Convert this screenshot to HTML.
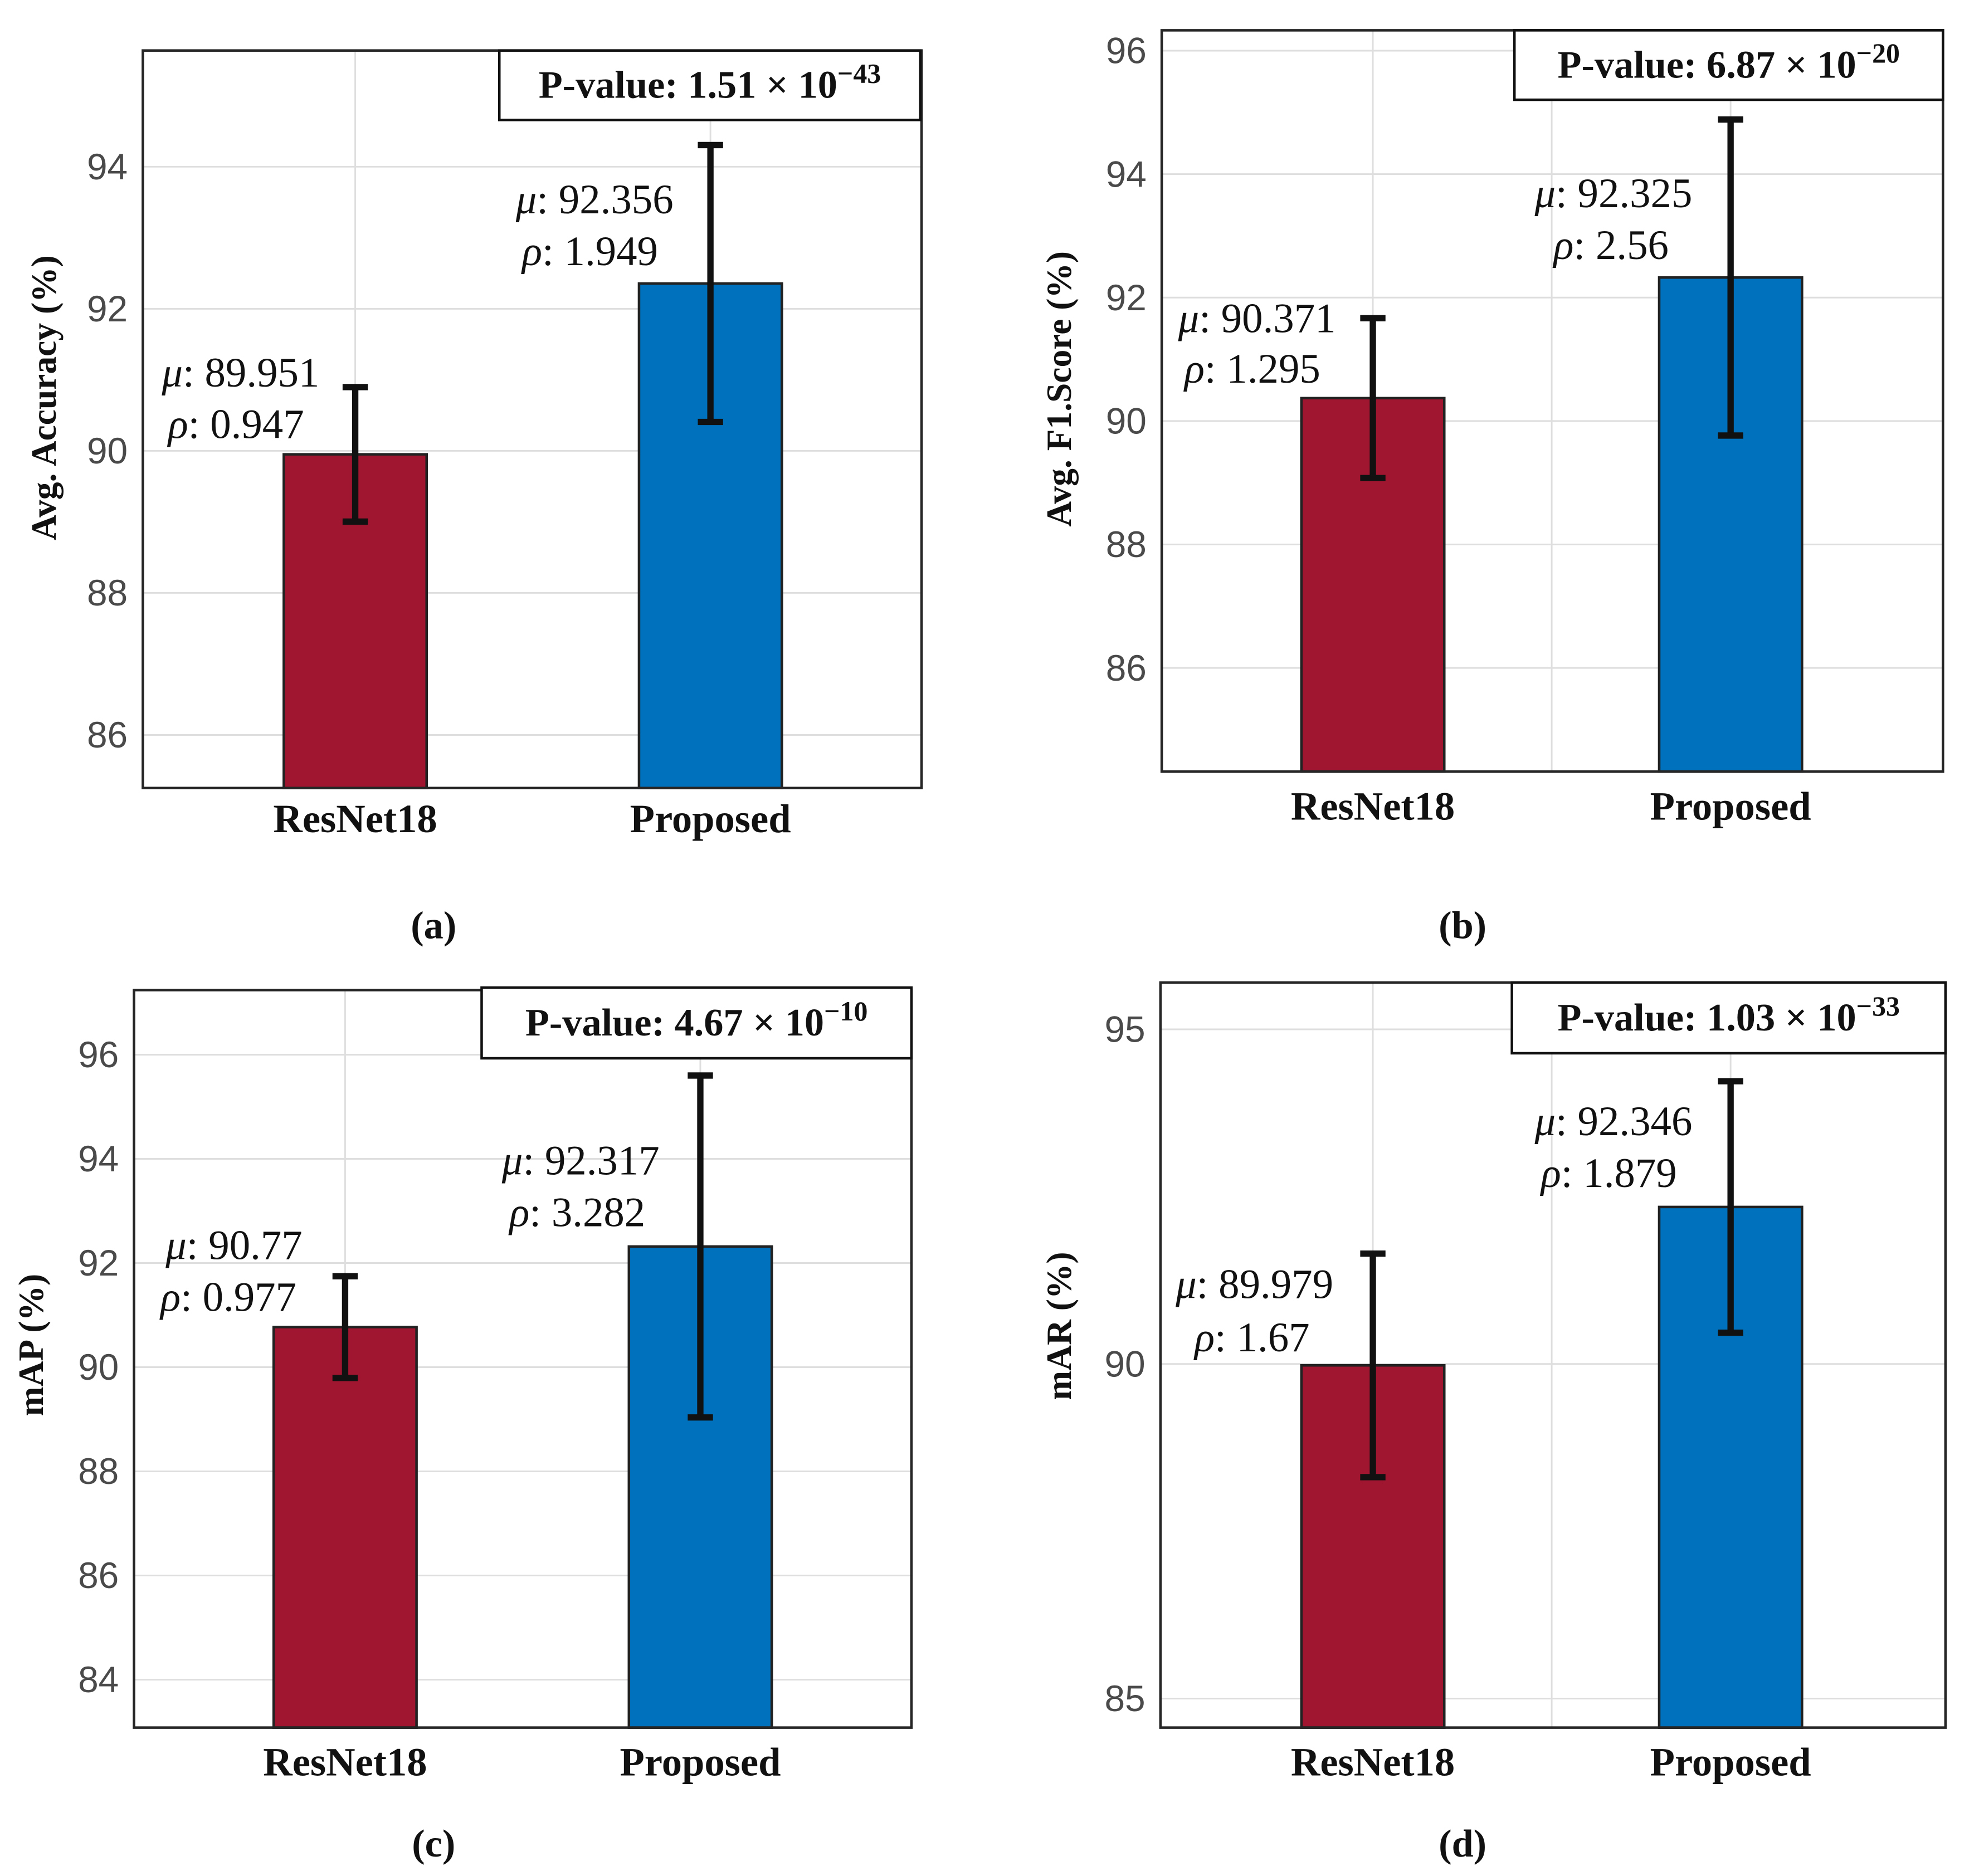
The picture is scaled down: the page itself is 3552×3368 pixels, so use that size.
<!DOCTYPE html>
<html><head><meta charset="utf-8">
<style>
html,body{margin:0;padding:0;background:#fff;}
svg{display:block;}
.tick{font-family:"Liberation Sans",sans-serif;font-size:29px;fill:#4a4a4a;}
.xl{font-family:"Liberation Serif",serif;font-weight:bold;font-size:32px;fill:#111;}
.yl{font-family:"Liberation Serif",serif;font-weight:bold;font-size:28px;fill:#111;}
.ann{font-family:"Liberation Serif",serif;font-size:33px;fill:#111;}
.pv{font-family:"Liberation Serif",serif;font-weight:bold;font-size:31px;fill:#111;}
.cap{font-family:"Liberation Serif",serif;font-weight:bold;font-size:31px;fill:#111;}
</style></head>
<body>
<svg id="fig" width="3552" height="3368" viewBox="0 0 1565.5 1485.5" preserveAspectRatio="none" xmlns="http://www.w3.org/2000/svg"></svg>
<script>
const categories = ["ResNet18","Proposed"];
const meansA = [89.951, 92.356], stdA = [0.947, 1.949];
const meansB = [90.371, 92.325], stdB = [1.295, 2.56];
const meansC = [90.77, 92.317], stdC = [0.977, 3.282];
const meansD = [89.979, 92.346], stdD = [1.67, 1.879];
const ticksA = [86,88,90,92,94];
const ticksB = [86,88,90,92,94,96];
const ticksC = [84,86,88,90,92,94,96];
const ticksD = [85,90,95];
const pvalA = ["1.51","43"], pvalB = ["6.87","20"], pvalC = ["4.67","10"], pvalD = ["1.03","33"];
const ylabels = ["Avg. Accuracy (%)","Avg. F1.Score (%)","mAP (%)","mAR (%)"];
const captions = ["(a)","(b)","(c)","(d)"];

const NS="http://www.w3.org/2000/svg";
const svg=document.getElementById('fig');
function mk(tag,attrs,parent,text){const e=document.createElementNS(NS,tag);for(const k in attrs)e.setAttribute(k,attrs[k]);if(text!==undefined)e.textContent=text;(parent||svg).appendChild(e);return e;}

const panels=[
 {id:'a',means:meansA,std:stdA,ticks:ticksA,pv:pvalA,x0:113,x1:729,y0:40,y1:624,ymin:85.253,ymax:95.636,cx:[281,562],mid:false,
  pbox:[395,40,333,55],ann:[[128,295,133,336],[408,158,413,199]],ylx:35,yly:315,cap:[343,733],xly:658},
 {id:'b',means:meansB,std:stdB,ticks:ticksB,pv:pvalB,x0:919,x1:1537,y0:24,y1:611,ymin:84.32,ymax:96.33,cx:[1086,1369],mid:true,
  pbox:[1198,24,339,55],ann:[[932,252,937,292],[1214,153,1229,194]],ylx:838,yly:308,cap:[1157,733],xly:648},
 {id:'c',means:meansC,std:stdC,ticks:ticksC,pv:pvalC,x0:106,x1:721,y0:784,y1:1368,ymin:83.08,ymax:97.24,cx:[273,554],mid:false,
  pbox:[381,782,340,56],ann:[[131,986,127,1027],[397,919,403,960]],ylx:25,yly:1065,cap:[343,1460],xly:1405},
 {id:'d',means:meansD,std:stdD,ticks:ticksD,pv:pvalD,x0:918,x1:1539,y0:778,y1:1368,ymin:84.566,ymax:95.70,cx:[1086,1369],mid:true,
  pbox:[1196,778,343,56],ann:[[930,1017,945,1059],[1214,888,1219,929]],ylx:838,yly:1050,cap:[1157,1460],xly:1405}
];
const colors=["#A01530","#0072BD"];

panels.forEach((p,pi)=>{
  const g=mk('g',{});
  
  
  const y=v=>p.y1-(v-p.ymin)/(p.ymax-p.ymin)*(p.y1-p.y0);
  p.ticks.forEach(t=>{
    const l=mk('line',{x1:p.x0,x2:p.x1,y1:y(t),y2:y(t),stroke:'#dedede','stroke-width':1.3},g);
    
    
    const tx=mk('text',{x:p.x0-12,y:y(t)+10,'text-anchor':'end',class:'tick'},g,String(t));
    
    
  });
  const vx=p.cx.slice(); if(p.mid) vx.push((p.cx[0]+p.cx[1])/2);
  vx.forEach(x=>{
    const l=mk('line',{x1:x,x2:x,y1:p.y0,y2:p.y1,stroke:'#dedede','stroke-width':1.3},g);
    
    
  });
  categories.forEach((c,i)=>{
    const top=y(p.means[i]);
    const b=mk('rect',{x:p.cx[i]-56.5,y:top,width:113,height:p.y1-top,fill:colors[i],stroke:'#222','stroke-width':2},g);
    
    
    const e=mk('g',{stroke:'#111','stroke-width':5},g);
    
    
    const hi=y(p.means[i]+p.std[i]), lo=y(p.means[i]-p.std[i]);
    mk('line',{x1:p.cx[i],x2:p.cx[i],y1:hi,y2:lo},e);
    mk('line',{x1:p.cx[i]-10,x2:p.cx[i]+10,y1:hi,y2:hi},e);
    mk('line',{x1:p.cx[i]-10,x2:p.cx[i]+10,y1:lo,y2:lo},e);
    const xl=mk('text',{x:p.cx[i],y:p.xly+1,'text-anchor':'middle',class:'xl'},g,c);
    
    
    const a=p.ann[i];
    const m=mk('text',{x:a[0],y:a[1]+11,class:'ann'},g);
    
    
    mk('tspan',{'font-style':'italic'},m,'μ'); mk('tspan',{},m,': '+p.means[i]);
    const r=mk('text',{x:a[2],y:a[3]+11,class:'ann'},g);
    
    
    mk('tspan',{'font-style':'italic'},r,'ρ'); mk('tspan',{},r,': '+p.std[i]);
  });
  const ax=mk('rect',{x:p.x0,y:p.y0,width:p.x1-p.x0,height:p.y1-p.y0,fill:'none',stroke:'#262626','stroke-width':2},g);
  
  
  const pb=p.pbox;
  const pg=mk('g',{},g);
  
  
  mk('rect',{x:pb[0],y:pb[1],width:pb[2],height:pb[3],fill:'#fff',stroke:'#111','stroke-width':2},pg);
  const pt=mk('text',{x:pb[0]+pb[2]/2,y:pb[1]+pb[3]/2+10,'text-anchor':'middle',class:'pv'},pg);
  mk('tspan',{},pt,'P-value: '+p.pv[0]+' × 10');
  mk('tspan',{dy:-12,'font-size':22},pt,'−'+p.pv[1]);
  const yl=mk('text',{x:p.ylx,y:p.yly,'text-anchor':'middle',class:'yl',transform:`rotate(-90 ${p.ylx} ${p.yly})`,dy:9},g,ylabels[pi]);
  
  
  const cp=mk('text',{x:p.cap[0],y:p.cap[1]+10,'text-anchor':'middle',class:'cap'},g,captions[pi]);
  
  
});
</script>
</body></html>
